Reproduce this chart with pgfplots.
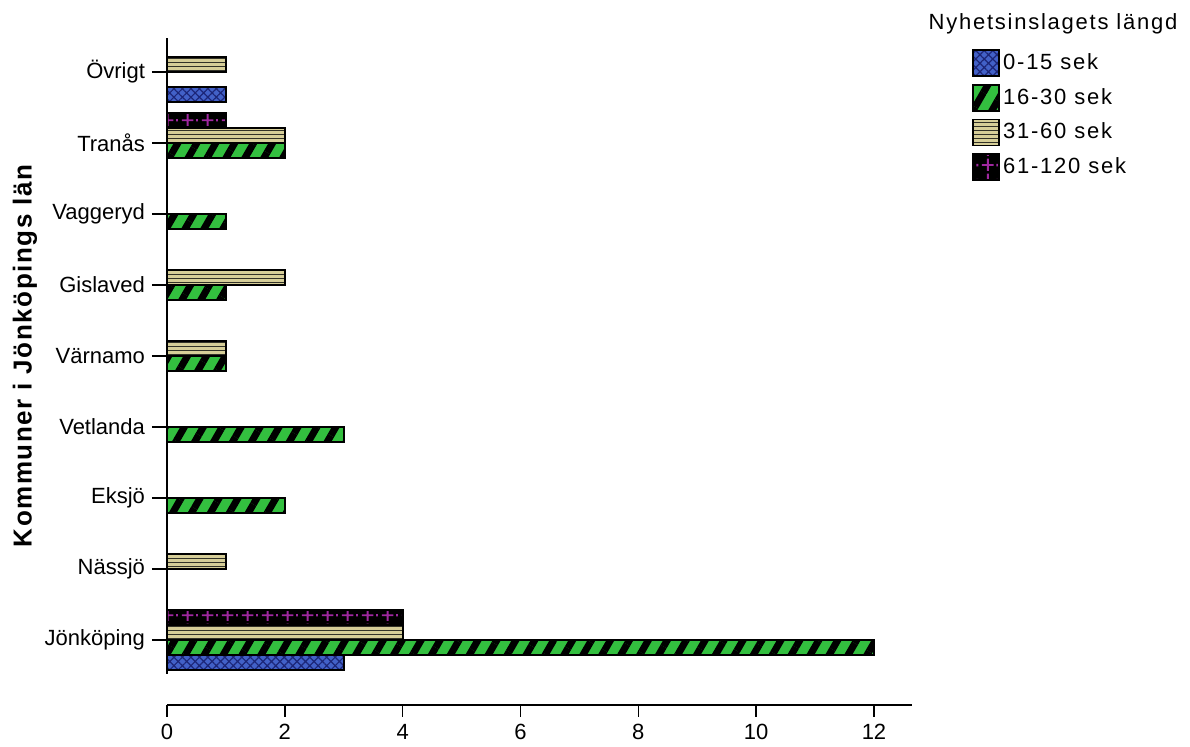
\documentclass[border=0pt]{standalone}
\usepackage{fontspec}
\setmainfont{Liberation Sans}
\newfontfamily\legfont[LetterSpace=8]{Liberation Sans}
\newfontfamily\labfont[LetterSpace=6]{Liberation Sans}
\usepackage{pgfplots}
\pgfplotsset{compat=1.18}
\usetikzlibrary{patterns,patterns.meta}

\definecolor{cblue}{RGB}{66,97,200}
\definecolor{cnavy}{RGB}{28,38,120}
\definecolor{cgreen}{RGB}{51,191,63}
\definecolor{cbeige}{RGB}{214,206,152}
\definecolor{cline}{RGB}{50,50,40}
\definecolor{cpurple}{RGB}{160,40,160}

% purple plus signs on black (drawn twice so that it wraps across the tile)
\pgfdeclarepatternformonly{plusgrid}{\pgfqpoint{0pt}{0pt}}{\pgfqpoint{10pt}{7.5pt}}{\pgfqpoint{10pt}{7.5pt}}{%
  \pgfsetlinewidth{1pt}%
  \pgfpathmoveto{\pgfqpoint{1pt}{6.25pt}}\pgfpathlineto{\pgfqpoint{7pt}{6.25pt}}%
  \pgfpathmoveto{\pgfqpoint{4pt}{3.25pt}}\pgfpathlineto{\pgfqpoint{4pt}{9.25pt}}%
  \pgfpathmoveto{\pgfqpoint{1pt}{-1.25pt}}\pgfpathlineto{\pgfqpoint{7pt}{-1.25pt}}%
  \pgfpathmoveto{\pgfqpoint{4pt}{-4.25pt}}\pgfpathlineto{\pgfqpoint{4pt}{1.75pt}}%
  \pgfpathmoveto{\pgfqpoint{8.9pt}{5.6pt}}\pgfpathlineto{\pgfqpoint{8.9pt}{6.9pt}}%
  \pgfusepath{stroke}}

\pgfplotsset{
  sA/.style={preaction={fill=cblue}, pattern={Hatch[angle=45,distance=3pt,line width=0.6pt]}, pattern color=cnavy, draw=black, line width=0.9pt},
  sB/.style={preaction={fill=cgreen}, pattern={Lines[angle=60,distance=8.2pt,line width=3.5pt]}, pattern color=black, draw=black, line width=0.9pt},
  sC/.style={preaction={fill=cbeige}, pattern={Lines[angle=0,distance=2pt,line width=0.6pt]}, pattern color=cline, draw=black, line width=0.9pt},
  sD/.style={preaction={fill=black}, pattern=plusgrid, pattern color=cpurple, draw=black, line width=0.9pt},
}

\begin{document}
\begin{tikzpicture}
\path (-83.5pt,-36pt) rectangle (511.5pt,337pt);
\begin{axis}[
  name=ax, at={(0pt,0pt)}, anchor=south west,
  scale only axis, width=372.5pt, height=318pt,
  xmin=0, xmax=12.645, ymin=-0.479, ymax=8.479,
  hide x axis, axis y line*=left,
  y axis line style={-, line width=0.9pt},
  ytick={0,...,8},
  yticklabels={Jönköping,Nässjö,Eksjö,Vetlanda,Värnamo,Gislaved,Vaggeryd,Tranås,Övrigt},
  tick align=outside, major tick length=7.5pt,
  ytick style={black, line width=0.8pt},
  yticklabel style={font=\fontsize{11}{13}\selectfont},
  xbar, bar width=7.5pt, clip=false,
  ylabel={Kommuner i Jönköpings län},
  every axis y label/.style={at={(rel axis cs:0,0.5)}, xshift=-71pt, rotate=90, anchor=center, font=\labfont\fontsize{13}{15}\selectfont\bfseries},
  legend style={at={(rel axis cs:1,1)}, anchor=north west, xshift=27pt, yshift=-3.5pt,
    draw=none, fill=none, row sep=3.4pt, font=\legfont\fontsize{11}{13}\selectfont,
    nodes={inner sep=1.5pt}},
  legend cell align=left,
  legend image code/.code={\draw[#1] (0pt,-6.5pt) rectangle (13pt,6.5pt);},
]
\addplot[sA, bar shift=-11.25pt] coordinates {(3,0) (1,8)};
\addlegendentry{0-15 sek}
\addplot[sB, bar shift=-3.75pt] coordinates {(12,0) (2,2) (3,3) (1,4) (1,5) (1,6) (2,7)};
\addlegendentry{16-30 sek}
\addplot[sC, bar shift=3.75pt] coordinates {(4,0) (1,1) (1,4) (2,5) (2,7) (1,8)};
\addlegendentry{31-60 sek}
\addplot[sD, bar shift=11.25pt] coordinates {(4,0) (1,7)};
\addlegendentry{61-120 sek}
\node[font=\legfont\fontsize{11}{13}\selectfont] at (rel axis cs:1,1) [xshift=70.5pt, yshift=7pt] {Nyhetsinslagets längd};
\end{axis}
\begin{axis}[
  at={(0pt,-15.5pt)}, anchor=south west,
  scale only axis, width=372.5pt, height=10pt,
  xmin=0, xmax=12.645, ymin=0, ymax=1,
  hide y axis, axis x line*=bottom,
  x axis line style={-, line width=0.9pt},
  xtick={0,2,...,12},
  tick align=outside, major tick length=6pt,
  xtick style={black, line width=0.8pt},
  xticklabel style={font=\fontsize{11}{13}\selectfont},
  /pgf/number format/assume math mode=true,
]
\end{axis}
\end{tikzpicture}
\end{document}
